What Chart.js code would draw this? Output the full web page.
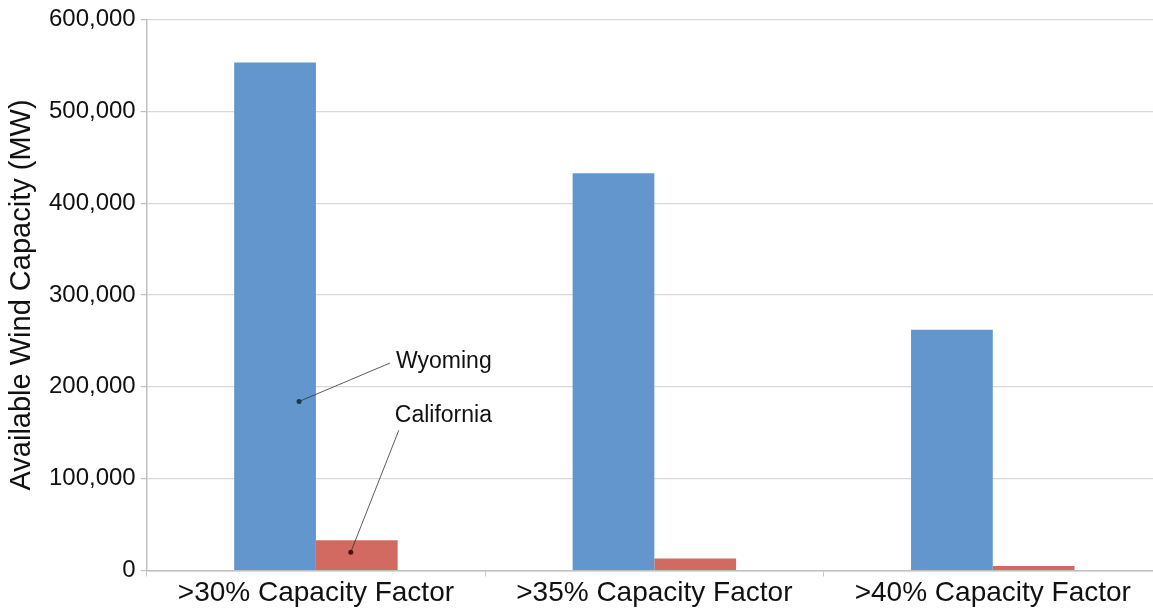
<!DOCTYPE html>
<html>
<head>
<meta charset="utf-8">
<script src="https://cdn.jsdelivr.net/npm/chart.js@4"></script>
<style>
  html, body { margin: 0; padding: 0; background: #fff; overflow: hidden; }
  #wrap { position: relative; width: 1162px; height: 609px; }
</style>
</head>
<body>
<div id="wrap"><canvas id="windChart"></canvas></div>
<script>
// chart data
const categories = ['>30% Capacity Factor', '>35% Capacity Factor', '>40% Capacity Factor'];
const wyoming = [553000, 432500, 262000];
const california = [33000, 13000, 5000];
const yTicks = [0, 100000, 200000, 300000, 400000, 500000, 600000];

// callout labels, anchored on a bar (dataset, index) and a y value
const callouts = [
  { text: 'Wyoming', dataset: 0, index: 0, dotDx: 24, dotValue: 184000,
    labelDx: 121, labelValue: 227000, lineDx: -6, lineDy: 1 },
  { text: 'California', dataset: 1, index: 0, dotDx: -6, dotValue: 20000,
    labelDx: 38, labelValue: 169000, lineDx: 4, lineDy: 15 }
];

const FONT = '"Liberation Sans", Arial, Helvetica, sans-serif';

const calloutPlugin = {
  id: 'callouts',
  afterDatasetsDraw(chart) {
    const ctx = chart.ctx;
    const y = chart.scales.y;
    ctx.save();
    callouts.forEach(c => {
      const bar = chart.getDatasetMeta(c.dataset).data[c.index];
      const dx = bar.x + c.dotDx, dy = y.getPixelForValue(c.dotValue);
      const lx = bar.x + c.labelDx, ly = y.getPixelForValue(c.labelValue);
      ctx.strokeStyle = '#333';
      ctx.lineWidth = 0.8;
      ctx.beginPath();
      ctx.moveTo(dx, dy);
      ctx.lineTo(lx + c.lineDx, ly + c.lineDy);
      ctx.stroke();
      ctx.fillStyle = c.dataset === 0 ? '#1f3550' : '#4a1410';
      ctx.beginPath();
      ctx.arc(dx, dy, 2.5, 0, Math.PI * 2);
      ctx.fill();
      ctx.fillStyle = '#111';
      ctx.font = '23px ' + FONT;
      ctx.textAlign = 'left';
      ctx.textBaseline = 'middle';
      ctx.fillText(c.text, lx, ly);
    });
    ctx.restore();
  }
};

new Chart(document.getElementById('windChart'), {
  type: 'bar',
  data: {
    labels: categories,
    datasets: [
      { label: 'Wyoming', data: wyoming, backgroundColor: '#6396cc' },
      { label: 'California', data: california, backgroundColor: '#d26a61' }
    ]
  },
  options: {
    responsive: true,
    maintainAspectRatio: false,
    animation: false,
    layout: { padding: { top: 18, right: 0, bottom: 0, left: 0 } },
    datasets: { bar: { barPercentage: 1.0, categoryPercentage: 0.483 } },
    plugins: { legend: { display: false }, tooltip: { enabled: false } },
    scales: {
      x: {
        offset: true,
        grid: { offset: true, drawOnChartArea: false, drawTicks: true, tickLength: 6, color: '#c8c8c8' },
        border: { color: '#c0c0c0', width: 1.5 },
        ticks: { color: '#111', font: { family: FONT, size: 28 }, padding: 0, maxRotation: 0 },
        afterFit(scale) { scale.height = 38.5; }
      },
      y: {
        min: 0,
        max: 600000,
        afterBuildTicks(scale) { scale.ticks = yTicks.map(v => ({ value: v })); },
        grid: { color: '#d9d9d9', lineWidth: 1.2, tickLength: 6, tickColor: '#c0c0c0' },
        border: { color: '#c0c0c0', width: 1.5 },
        ticks: {
          color: '#111',
          font: { family: FONT, size: 24 },
          padding: 5,
          callback: v => v.toLocaleString('en-US')
        },
        title: {
          display: true,
          text: 'Available Wind Capacity (MW)',
          color: '#111',
          font: { family: FONT, size: 29 },
          padding: { top: 5, bottom: 0 }
        },
        afterFit(scale) { scale.width = 146.7; }
      }
    }
  },
  plugins: [calloutPlugin]
});
</script>
</body>
</html>
